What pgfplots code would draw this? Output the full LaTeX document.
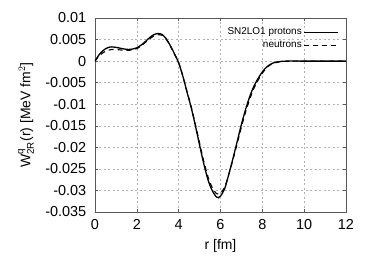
\documentclass[border=0pt]{standalone}
\usepackage{fontspec}
\setmainfont{Liberation Sans}
\usepackage{pgfplots}
\pgfplotsset{compat=1.18}
\begin{document}
\fontsize{13.8}{16}\selectfont
\begin{tikzpicture}
\begin{axis}[
  scale only axis,
  width=251bp, height=194bp,
  xmin=0, xmax=12, ymin=-0.035, ymax=0.01,
  xtick={0,2,4,6,8,10,12},
  ytick={-0.035,-0.03,-0.025,-0.02,-0.015,-0.01,-0.005,0,0.005,0.01},
  yticklabels={-0.035,-0.03,-0.025,-0.02,-0.015,-0.01,-0.005,0,0.005,0.01},
  scaled y ticks=false,
  /pgf/number format/assume math mode=true,
  tick align=inside,
  major tick length=3bp,
  axis line style={black!65, line width=0.6pt},
  tick style={black!65, line width=0.5pt},
  grid=major,
  major grid style={gray!60, dash pattern=on 2pt off 2.5pt, line width=0.4pt},
  xticklabel style={font=\fontsize{14.5}{16}\selectfont, yshift=-3bp},
  yticklabel style={font=\fontsize{14.5}{16}\selectfont, xshift=-4bp},
  xlabel={r [fm]},
  ylabel={W$^{\mathrm{q}}_{\mathrm{2R}}$(r) [MeV fm$^{2}$]},
  xlabel style={font=\fontsize{14}{16}\selectfont, yshift=0bp},
  ylabel style={font=\fontsize{14}{16}\selectfont, yshift=2bp},
  legend style={draw=none, fill=none, at={(0.985,0.97)}, anchor=north east,
    font=\fontsize{10}{11}\selectfont, row sep=0pt},
  legend cell align=right,
  legend plot pos=right,
  legend image code/.code={\draw[#1] (0bp,0bp) -- (34bp,0bp);},
]
\addplot[black, line width=1.3pt, smooth] coordinates {
(0,0) (0.2,0.0015) (0.4,0.0025) (0.6,0.0031) (0.8,0.0033) (1.0,0.0032)
(1.2,0.0030) (1.4,0.0028) (1.6,0.0027) (1.8,0.0028) (2.0,0.0031)
(2.2,0.0037) (2.4,0.0045) (2.6,0.0054) (2.8,0.0061) (3.0,0.0064)
(3.2,0.0062) (3.4,0.0052) (3.6,0.0036) (3.8,0.0017) (4.0,-0.0004)
(4.2,-0.0035) (4.4,-0.0072) (4.6,-0.0108) (4.8,-0.0150) (5.0,-0.0195)
(5.2,-0.0238) (5.4,-0.0275) (5.6,-0.0300) (5.8,-0.0315) (5.9,-0.0317)
(6.0,-0.0313) (6.2,-0.0296) (6.4,-0.0262) (6.6,-0.0225) (6.8,-0.0186)
(7.0,-0.0147) (7.2,-0.0112) (7.4,-0.0082) (7.6,-0.0058) (7.8,-0.0040)
(8.0,-0.0025) (8.2,-0.0014) (8.4,-0.0007) (8.6,-0.0003) (8.8,-0.0001)
(9.2,0) (10,0) (11,0) (12,0)
};
\addlegendentry{SN2LO1 protons}
\addplot[black, line width=1.1pt, dash pattern=on 5pt off 4pt, smooth] coordinates {
(0,0) (0.2,0.0012) (0.4,0.0020) (0.6,0.0025) (0.8,0.0027) (1.0,0.0027)
(1.2,0.0026) (1.4,0.0025) (1.6,0.0025) (1.8,0.0026) (2.0,0.0029)
(2.2,0.0035) (2.4,0.0043) (2.6,0.0051) (2.8,0.0058) (3.0,0.0061)
(3.2,0.0060) (3.4,0.0051) (3.6,0.0035) (3.8,0.0016) (4.0,-0.0004)
(4.2,-0.0035) (4.4,-0.0071) (4.6,-0.0106) (4.8,-0.0147) (5.0,-0.0190)
(5.2,-0.0232) (5.4,-0.0268) (5.6,-0.0293) (5.8,-0.0307) (6.0,-0.0307)
(6.2,-0.0292) (6.4,-0.0262) (6.6,-0.0228) (6.8,-0.0191) (7.0,-0.0153)
(7.2,-0.0118) (7.4,-0.0088) (7.6,-0.0063) (7.8,-0.0044) (8.0,-0.0028)
(8.2,-0.0016) (8.4,-0.0008) (8.6,-0.0004) (8.8,-0.0002) (9.2,0)
(10,0) (11,0) (12,0)
};
\addlegendentry{neutrons}
\end{axis}
\pgfresetboundingbox
\path ([shift={(-95bp,-50bp)}]current axis.south west) rectangle ([shift={(28bp,18bp)}]current axis.north east);
\end{tikzpicture}
\end{document}
